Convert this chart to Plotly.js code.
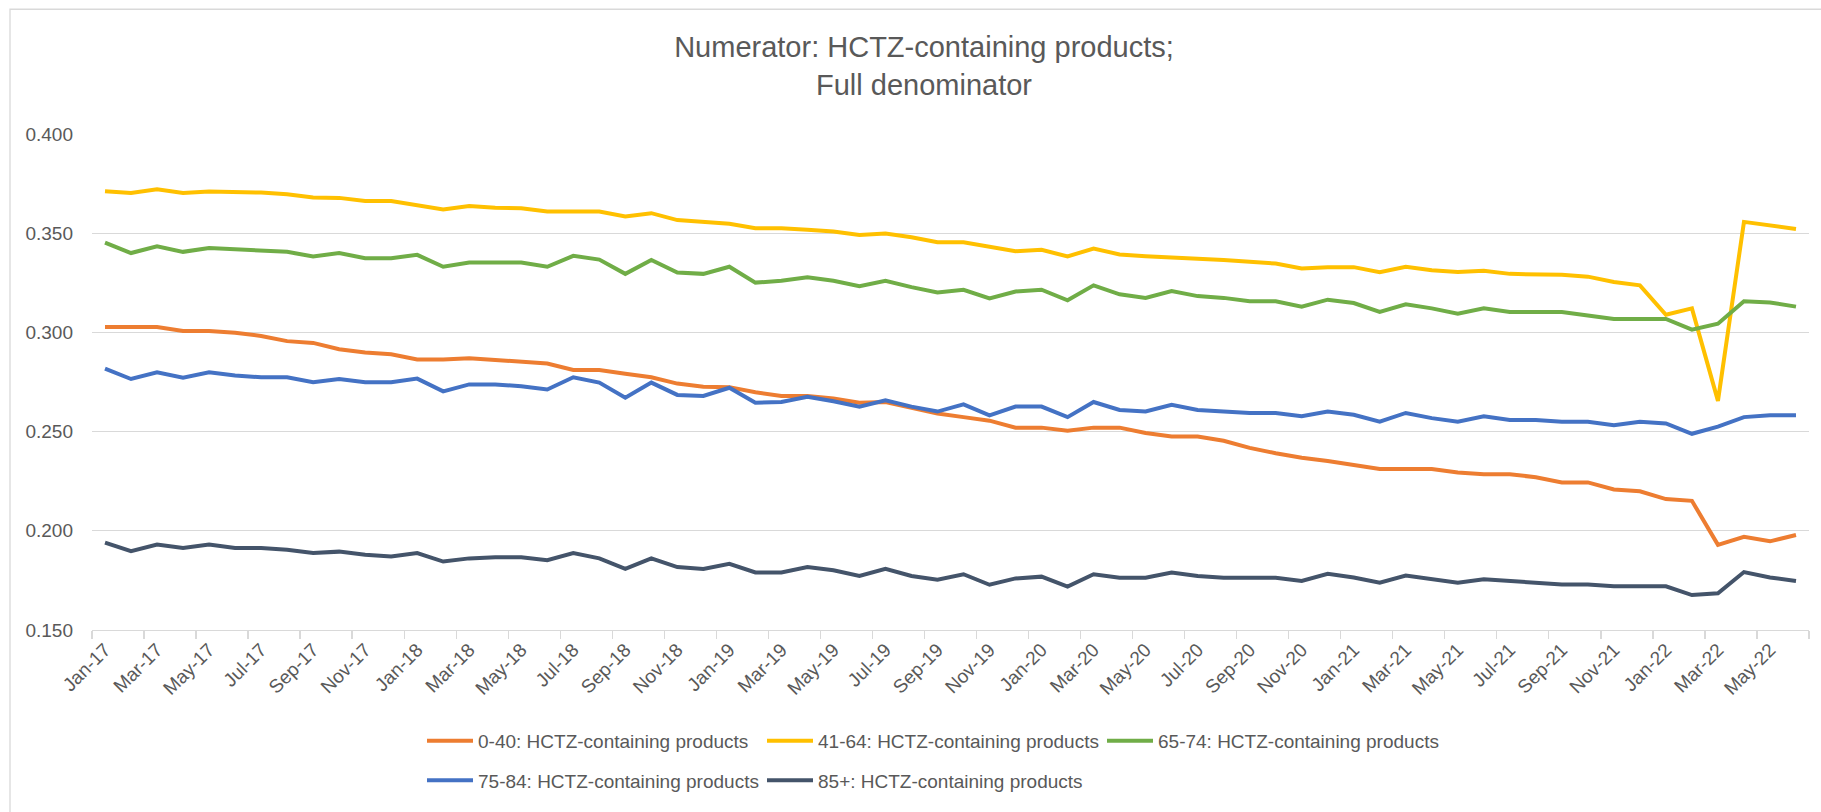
<!DOCTYPE html>
<html>
<head>
<meta charset="utf-8">
<script src="https://cdn.plot.ly/plotly-3.0.1.min.js"></script>
<style>html,body{margin:0;padding:0;background:#fff;}#chart{width:1821px;height:812px;}</style>
</head>
<body>
<div id="chart"></div>
<script>
var months = ["Jan-17","Feb-17","Mar-17","Apr-17","May-17","Jun-17","Jul-17","Aug-17","Sep-17","Oct-17","Nov-17","Dec-17",
"Jan-18","Feb-18","Mar-18","Apr-18","May-18","Jun-18","Jul-18","Aug-18","Sep-18","Oct-18","Nov-18","Dec-18",
"Jan-19","Feb-19","Mar-19","Apr-19","May-19","Jun-19","Jul-19","Aug-19","Sep-19","Oct-19","Nov-19","Dec-19",
"Jan-20","Feb-20","Mar-20","Apr-20","May-20","Jun-20","Jul-20","Aug-20","Sep-20","Oct-20","Nov-20","Dec-20",
"Jan-21","Feb-21","Mar-21","Apr-21","May-21","Jun-21","Jul-21","Aug-21","Sep-21","Oct-21","Nov-21","Dec-21",
"Jan-22","Feb-22","Mar-22","Apr-22","May-22","Jun-22"];

var age0_40 = [0.3027,0.3027,0.3027,0.3007,0.3007,0.2998,0.2982,0.2956,0.2947,0.2915,0.2899,0.2890,
0.2863,0.2863,0.2870,0.2861,0.2854,0.2843,0.2811,0.2811,0.2792,0.2774,0.2742,0.2726,
0.2724,0.2698,0.2680,0.2680,0.2667,0.2646,0.2649,0.2619,0.2591,0.2573,0.2555,0.2520,
0.2520,0.2504,0.2520,0.2520,0.2493,0.2475,0.2475,0.2454,0.2418,0.2391,0.2368,0.2352,
0.2333,0.2311,0.2311,0.2311,0.2294,0.2285,0.2285,0.2270,0.2244,0.2244,0.2208,0.2199,
0.2160,0.2151,0.1929,0.1970,0.1947,0.1979];

var age41_64 = [0.3712,0.3703,0.3722,0.3703,0.3710,0.3710,0.3705,0.3696,0.3680,0.3678,0.3662,0.3662,
0.3639,0.3619,0.3637,0.3628,0.3626,0.3609,0.3609,0.3609,0.3584,0.3601,0.3566,0.3557,
0.3548,0.3525,0.3525,0.3518,0.3509,0.3491,0.3498,0.3480,0.3454,0.3454,0.3429,0.3409,
0.3416,0.3383,0.3423,0.3393,0.3384,0.3379,0.3374,0.3365,0.3356,0.3347,0.3322,0.3329,
0.3329,0.3304,0.3331,0.3313,0.3304,0.3311,0.3295,0.3295,0.3290,0.3281,0.3254,0.3237,
0.3089,0.3121,0.2655,0.3557,0.3539,0.3521];

var age65_74 = [0.3452,0.3400,0.3434,0.3406,0.3425,0.3418,0.3409,0.3406,0.3383,0.3400,0.3374,0.3374,
0.3391,0.3331,0.3352,0.3352,0.3352,0.3331,0.3386,0.3367,0.3295,0.3365,0.3302,0.3295,
0.3331,0.3251,0.3260,0.3278,0.3260,0.3233,0.3260,0.3228,0.3201,0.3215,0.3171,0.3206,
0.3215,0.3162,0.3237,0.3192,0.3174,0.3208,0.3183,0.3174,0.3157,0.3157,0.3130,0.3165,
0.3148,0.3103,0.3142,0.3121,0.3094,0.3121,0.3103,0.3103,0.3103,0.3085,0.3068,0.3068,
0.3068,0.3014,0.3044,0.3157,0.3151,0.3130];

var age75_84 = [0.2817,0.2765,0.2799,0.2772,0.2799,0.2783,0.2774,0.2774,0.2749,0.2765,0.2749,0.2749,
0.2767,0.2703,0.2738,0.2738,0.2729,0.2712,0.2774,0.2747,0.2671,0.2747,0.2685,0.2680,
0.2721,0.2646,0.2649,0.2676,0.2653,0.2626,0.2658,0.2626,0.2601,0.2637,0.2582,0.2626,
0.2626,0.2573,0.2649,0.2609,0.2601,0.2635,0.2609,0.2601,0.2594,0.2594,0.2577,0.2601,
0.2585,0.2550,0.2594,0.2568,0.2550,0.2577,0.2559,0.2559,0.2550,0.2550,0.2532,0.2550,
0.2541,0.2489,0.2525,0.2573,0.2582,0.2582];

var age85plus = [0.1940,0.1897,0.1931,0.1913,0.1931,0.1913,0.1913,0.1904,0.1888,0.1895,0.1879,0.1870,
0.1888,0.1845,0.1861,0.1867,0.1867,0.1852,0.1888,0.1861,0.1808,0.1861,0.1817,0.1808,
0.1834,0.1790,0.1790,0.1817,0.1801,0.1772,0.1808,0.1772,0.1754,0.1781,0.1728,0.1760,
0.1769,0.1719,0.1781,0.1763,0.1763,0.1790,0.1772,0.1763,0.1763,0.1763,0.1747,0.1783,
0.1765,0.1738,0.1774,0.1756,0.1738,0.1756,0.1747,0.1738,0.1729,0.1729,0.1720,0.1720,
0.1720,0.1676,0.1685,0.1792,0.1765,0.1747];

var seriesNames = ["0-40: HCTZ-containing products","41-64: HCTZ-containing products","65-74: HCTZ-containing products",
"75-84: HCTZ-containing products","85+: HCTZ-containing products"];
var seriesValues = [age0_40, age41_64, age65_74, age75_84, age85plus];
var seriesColors = ["#ED7D31","#FFC000","#70AD47","#4472C4","#44546A"];
var seriesLegend = ["legend","legend","legend","legend2","legend2"];

var titleText = "Numerator: HCTZ-containing products;<br>Full denominator";
var yTicks = [0.15,0.20,0.25,0.30,0.35,0.40];

var FONT = "'Liberation Sans', Arial, sans-serif";
var GREY = "#595959";

var traces = seriesValues.map(function(v, i){
  return {
    type: "scatter", mode: "lines", x: months, y: v, name: seriesNames[i],
    line: {color: seriesColors[i], width: 4, shape: "linear"},
    legend: seriesLegend[i], hoverinfo: "x+y+name"
  };
});

var W = 1821, H = 812;
var L = 92, R = 12, T = 134, B = 177;
var pw = W - L - R, ph = H - T - B;
function px2x(x){ return (x - L) / pw; }
function py2y(y){ return (H - B - y) / ph; }

var legendCommon = {
  orientation: "h", xanchor: "left", yanchor: "middle",
  font: {family: FONT, size: 19, color: GREY},
  itemwidth: 46, entrywidth: 279, entrywidthmode: "pixels",
  bgcolor: "rgba(0,0,0,0)", borderwidth: 0, traceorder: "normal", tracegroupgap: 0
};

var layout = {
  width: W, height: H,
  margin: {l: L, r: R, t: T, b: B, pad: 0},
  paper_bgcolor: "#ffffff", plot_bgcolor: "#ffffff",
  font: {family: FONT, color: GREY},
  title: {text: titleText, font: {family: FONT, size: 29, color: GREY},
          x: 924 / W, xanchor: "center", xref: "container",
          y: 1 - 57 / H, yanchor: "top", yref: "container"},
  showlegend: true,
  legend: Object.assign({x: px2x(422), y: py2y(747)}, legendCommon),
  legend2: Object.assign({x: px2x(422), y: py2y(787)}, legendCommon),
  xaxis: {
    type: "category", range: [-0.5, months.length - 0.5], autorange: false,
    tickmode: "linear", tick0: 0, dtick: 2, tickson: "boundaries",
    ticks: "outside", ticklen: 8, tickwidth: 1.3, tickcolor: "#d9d9d9",
    tickangle: -45, tickfont: {family: FONT, size: 19, color: GREY},
    showgrid: false, showline: true, linecolor: "#d9d9d9", linewidth: 1.3,
    zeroline: false, fixedrange: true
  },
  yaxis: {
    range: [0.15, 0.40], autorange: false,
    tickmode: "array", tickvals: yTicks, tickformat: ".3f",
    ticks: "", ticklabelstandoff: 18,
    tickfont: {family: FONT, size: 19, color: GREY},
    showgrid: true, gridcolor: "#d9d9d9", gridwidth: 1.3,
    showline: false, zeroline: false, fixedrange: true
  },
  shapes: [{
    type: "rect", xref: "paper", yref: "paper",
    x0: px2x(10), x1: px2x(1840), y0: py2y(830), y1: py2y(8),
    line: {color: "#d9d9d9", width: 1.3}, fillcolor: "rgba(0,0,0,0)", layer: "below"
  }]
};

Plotly.newPlot("chart", traces, layout, {displayModeBar: false, staticPlot: true});
</script>
</body>
</html>
